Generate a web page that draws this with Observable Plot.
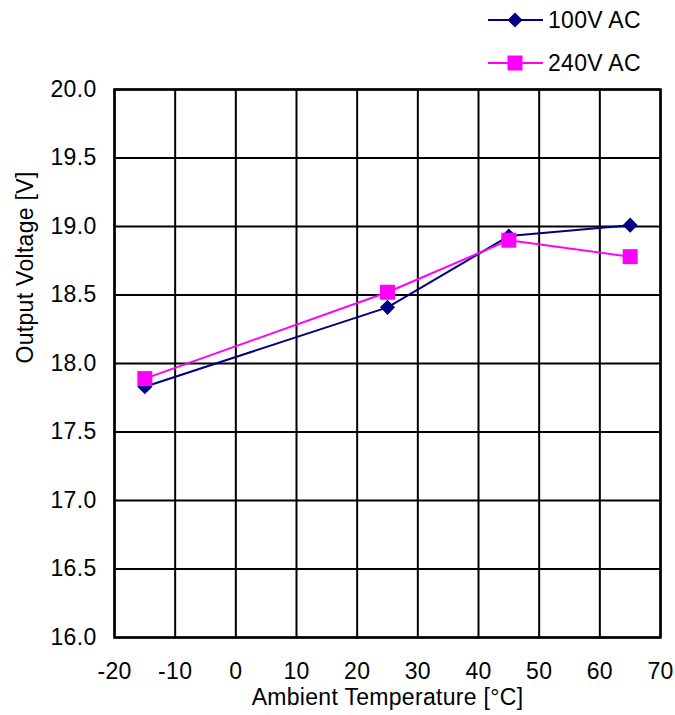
<!DOCTYPE html>
<html>
<head>
<meta charset="utf-8">
<script src="https://cdn.jsdelivr.net/npm/d3@7"></script>
<script src="https://cdn.jsdelivr.net/npm/@observablehq/plot@0.6"></script>
<style>
  html, body { margin: 0; padding: 0; background: #fff; }
  #wrap { position: relative; width: 675px; height: 715px; font-family: "Liberation Sans", Arial, sans-serif; }
  #legend { position: absolute; left: 486px; top: 0; }
  .item { position: absolute; left: 0; width: 190px; height: 30px; display: flex; align-items: center; font-size: 23px; letter-spacing: 0.3px; color: #000; white-space: nowrap; }
  .item svg { display: block; margin-right: 4px; }
</style>
</head>
<body>
<div id="wrap">
  <div id="chart"></div>
  <div id="legend"></div>
</div>
<script>
const temps = [-15, 25, 45, 65];
const v100 = [17.83, 18.41, 18.93, 19.01];
const v240 = [17.89, 18.52, 18.90, 18.78];
const seriesNames = ["100V AC", "240V AC"];
const seriesColors = ["#000080", "#FF00FF"];
const xTicks = [-20, -10, 0, 10, 20, 30, 40, 50, 60, 70];
const yTicks = [16.0, 16.5, 17.0, 17.5, 18.0, 18.5, 19.0, 19.5, 20.0];
const xTitle = "Ambient Temperature [°C]";
const yTitle = "Output Voltage [V]";

const d100 = temps.map((t, i) => ({t, v: v100[i]}));
const d240 = temps.map((t, i) => ({t, v: v240[i]}));

const font = "Liberation Sans, Arial, sans-serif";
const fs = 23;

const chart = Plot.plot({
  width: 675,
  height: 715,
  marginLeft: 114,
  marginRight: 15,
  marginTop: 89,
  marginBottom: 78,
  style: {fontFamily: font, fontSize: fs + "px", color: "#000", background: "#fff", overflow: "visible", letterSpacing: "0.3px"},
  x: {domain: [-20, 70]},
  y: {domain: [16, 20]},
  marks: [
    Plot.ruleX(xTicks, {stroke: "#000", strokeWidth: 2}),
    Plot.ruleY(yTicks, {stroke: "#000", strokeWidth: 2}),
    Plot.frame({stroke: "#000", strokeWidth: 2.5}),
    Plot.axisX(xTicks, {tickSize: 0, tickPadding: 25, label: null, fontSize: fs, fill: "#000", tickFormat: d => d < 0 ? "-" + Math.abs(d) : String(d)}),
    Plot.axisY(yTicks, {tickSize: 0, tickPadding: 18, label: null, fontSize: fs, fill: "#000", tickFormat: d => d.toFixed(1)}),
    Plot.text([xTitle], {frameAnchor: "bottom", lineAnchor: "top", dy: 51, fontSize: fs, fill: "#000"}),
    Plot.text([yTitle], {frameAnchor: "left", rotate: -90, dx: -89, fontSize: fs, fill: "#000"}),
    Plot.line(d100, {x: "t", y: "v", stroke: seriesColors[0], strokeWidth: 2}),
    Plot.dot(d100, {x: "t", y: "v", symbol: "diamond2", r: 6.8, fill: seriesColors[0], stroke: "none"}),
    Plot.line(d240, {x: "t", y: "v", stroke: seriesColors[1], strokeWidth: 2}),
    Plot.dot(d240, {x: "t", y: "v", symbol: "square", r: 8.46, fill: seriesColors[1], stroke: "none"})
  ]
});
document.getElementById("chart").appendChild(chart);

// Legend
const legend = document.getElementById("legend");
const centers = [20, 63];
const shapes = [
  c => `<polygon points="29,7.5 36.5,15 29,22.5 21.5,15" fill="${c}"/>`,
  c => `<rect x="21.5" y="7.5" width="15" height="15" fill="${c}"/>`
];
seriesNames.forEach((name, i) => {
  const div = document.createElement("div");
  div.className = "item";
  div.style.top = (centers[i] - 15) + "px";
  div.innerHTML = `<svg width="58" height="30"><line x1="2" y1="15" x2="57" y2="15" stroke="${seriesColors[i]}" stroke-width="2"/>${shapes[i](seriesColors[i])}</svg><span>${name}</span>`;
  legend.appendChild(div);
});
</script>
</body>
</html>
